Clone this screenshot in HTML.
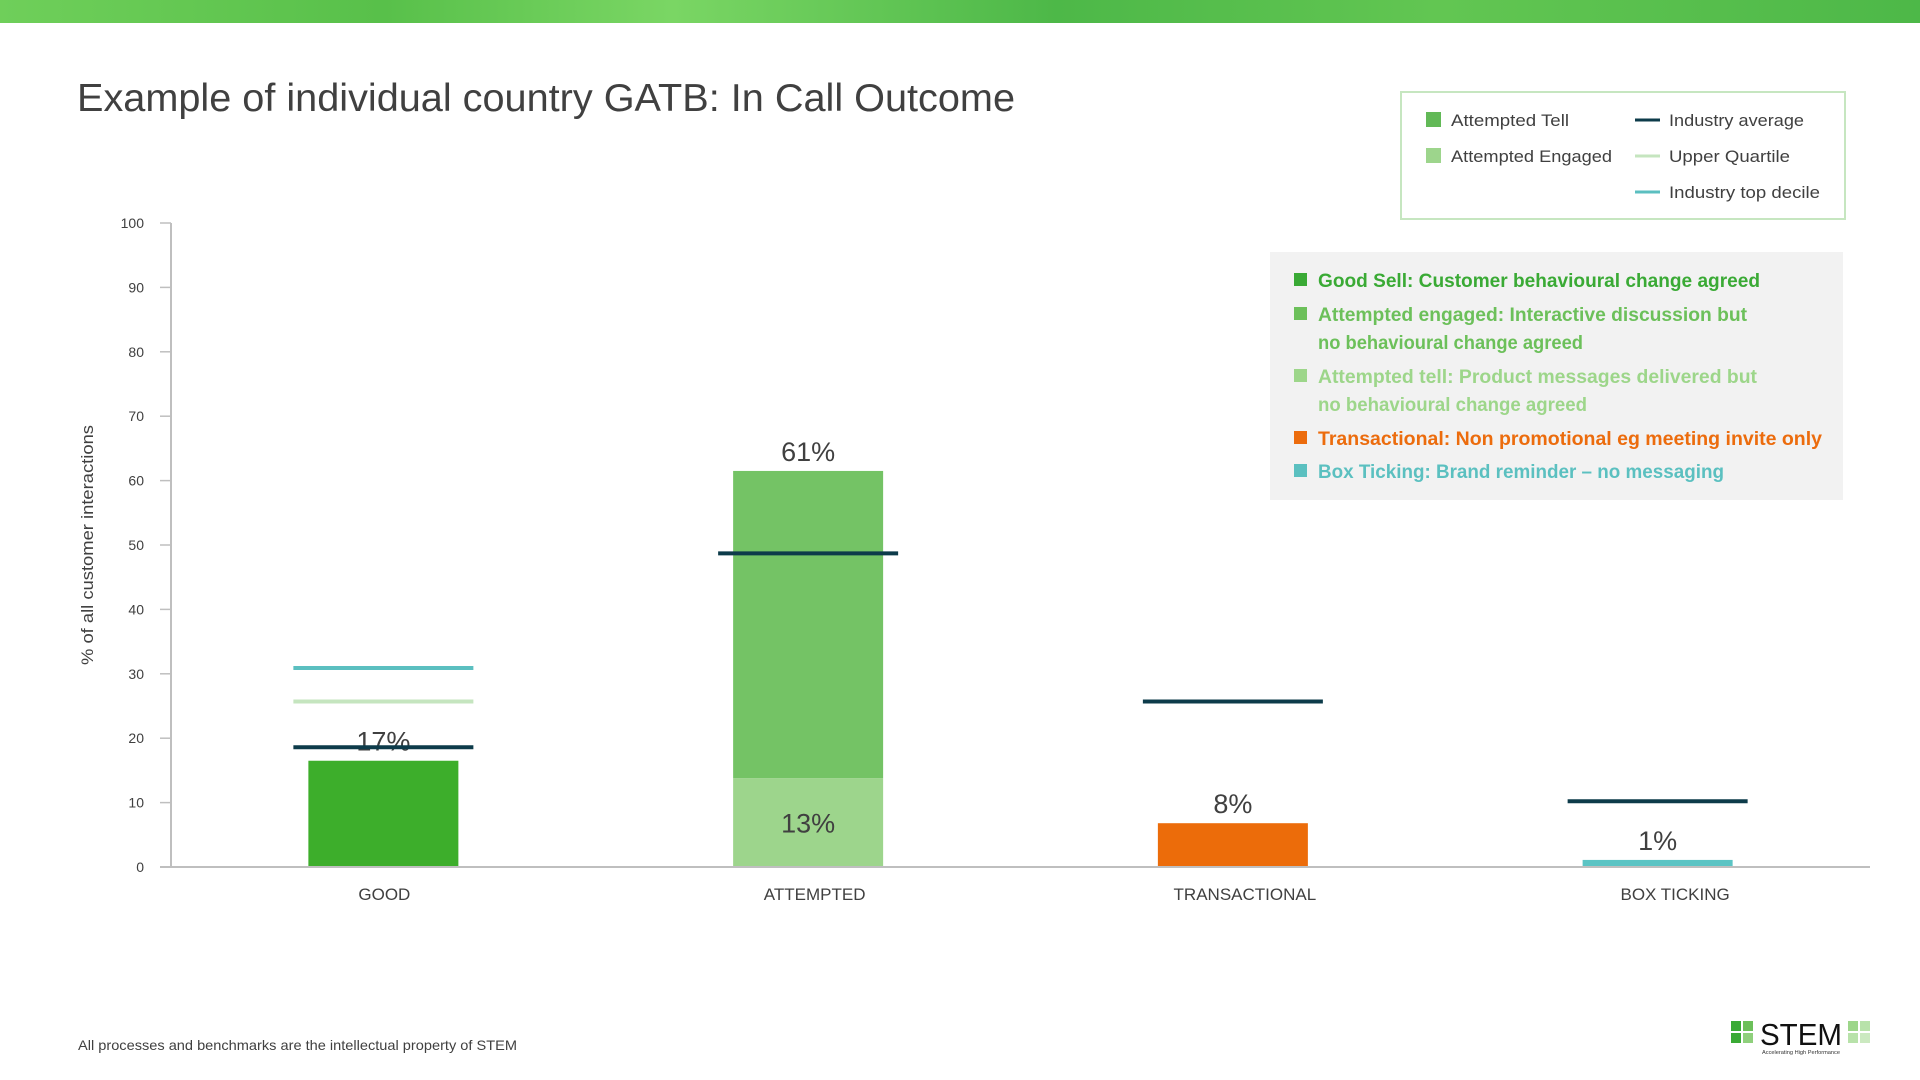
<!DOCTYPE html>
<html><head><meta charset="utf-8"><style>
html,body{margin:0;padding:0;background:#fff;}
svg{display:block;font-family:"Liberation Sans",sans-serif;}
</style></head><body>
<svg id="chart" width="1920" height="1080" viewBox="0 0 1920 1080" xmlns="http://www.w3.org/2000/svg">
<defs>
<linearGradient id="ban" x1="0" x2="1" y1="0" y2="0">
<stop offset="0" stop-color="#6fcf5a"/><stop offset="0.2" stop-color="#58c04a"/><stop offset="0.35" stop-color="#7ad664"/><stop offset="0.55" stop-color="#4db848"/><stop offset="0.75" stop-color="#62c652"/><stop offset="1" stop-color="#4db848"/>
</linearGradient>
</defs>
<rect x="0" y="0" width="1920" height="23" fill="url(#ban)"/>
<text x="77" y="111" font-size="39" fill="#404040" textLength="938" lengthAdjust="spacingAndGlyphs">Example of individual country GATB: In Call Outcome</text>

<g>
<rect x="1401" y="92" width="444" height="127" fill="#fff" stroke="#c6e6c0" stroke-width="2"/>
<rect x="1426" y="112" width="15" height="15" fill="#62b957"/>
<text x="1451" y="126" font-size="17" fill="#404040" textLength="118" lengthAdjust="spacingAndGlyphs">Attempted Tell</text>
<rect x="1426" y="148" width="15" height="15" fill="#9dd58c"/>
<text x="1451" y="162" font-size="17" fill="#404040" textLength="161" lengthAdjust="spacingAndGlyphs">Attempted Engaged</text>
<line x1="1635" x2="1660" y1="120" y2="120" stroke="#0d3b4a" stroke-width="3"/>
<text x="1669" y="126" font-size="17" fill="#404040" textLength="135" lengthAdjust="spacingAndGlyphs">Industry average</text>
<line x1="1635" x2="1660" y1="156" y2="156" stroke="#c5e5bf" stroke-width="3"/>
<text x="1669" y="162" font-size="17" fill="#404040" textLength="121" lengthAdjust="spacingAndGlyphs">Upper Quartile</text>
<line x1="1635" x2="1660" y1="192" y2="192" stroke="#5bbfc0" stroke-width="3"/>
<text x="1669" y="198" font-size="17" fill="#404040" textLength="151" lengthAdjust="spacingAndGlyphs">Industry top decile</text>
</g>

<g font-weight="bold" font-size="19">
<rect x="1270" y="252" width="573" height="248" fill="#f2f2f2"/>
<rect x="1294" y="273" width="13" height="13" fill="#3aaa35"/>
<text x="1318" y="287" fill="#3aaa35" textLength="442" lengthAdjust="spacingAndGlyphs">Good Sell: Customer behavioural change agreed</text>
<rect x="1294" y="307" width="13" height="13" fill="#6cc05a"/>
<text x="1318" y="321" fill="#6cc05a" textLength="429" lengthAdjust="spacingAndGlyphs">Attempted engaged: Interactive discussion but</text>
<text x="1318" y="349" fill="#6cc05a" textLength="265" lengthAdjust="spacingAndGlyphs">no behavioural change agreed</text>
<rect x="1294" y="369" width="13" height="13" fill="#9dd68a"/>
<text x="1318" y="383" fill="#9dd68a" textLength="439" lengthAdjust="spacingAndGlyphs">Attempted tell: Product messages delivered but</text>
<text x="1318" y="411" fill="#9dd68a" textLength="269" lengthAdjust="spacingAndGlyphs">no behavioural change  agreed</text>
<rect x="1294" y="431" width="13" height="13" fill="#ec6c0d"/>
<text x="1318" y="445" fill="#ec6c0d" textLength="504" lengthAdjust="spacingAndGlyphs">Transactional: Non promotional eg meeting invite only</text>
<rect x="1294" y="464" width="13" height="13" fill="#5bc0c0"/>
<text x="1318" y="478" fill="#5bc0c0" textLength="406" lengthAdjust="spacingAndGlyphs">Box Ticking: Brand reminder – no messaging</text>
</g>

<g id="plot"></g>

<text transform="translate(93,545) rotate(-90)" text-anchor="middle" font-size="17" fill="#404040" textLength="240" lengthAdjust="spacingAndGlyphs">% of all customer interactions</text>

<text x="78" y="1050" font-size="14" fill="#404040" textLength="439" lengthAdjust="spacingAndGlyphs">All processes and benchmarks are the intellectual property of STEM</text>

<g>
<rect x="1731" y="1021" width="10" height="10" fill="#3aaa35"/><rect x="1743" y="1021" width="10" height="10" fill="#6cc05a"/>
<rect x="1731" y="1033" width="10" height="10" fill="#3aaa35"/><rect x="1743" y="1033" width="10" height="10" fill="#8fd07c"/>
<text x="1760" y="1045" font-size="31" fill="#111" textLength="82" lengthAdjust="spacingAndGlyphs">STEM</text>
<text x="1762" y="1054" font-size="5" fill="#333" textLength="78" lengthAdjust="spacingAndGlyphs">Accelerating High Performance</text>
<rect x="1848" y="1021" width="10" height="10" fill="#9dd68a"/><rect x="1860" y="1021" width="10" height="10" fill="#b8e2aa"/>
<rect x="1848" y="1033" width="10" height="10" fill="#b8e2aa"/><rect x="1860" y="1033" width="10" height="10" fill="#cbe9c0"/>
</g>
</svg>
<script>
const categories = ["GOOD", "ATTEMPTED", "TRANSACTIONAL", "BOX TICKING"];
const mainValues = [16.5, 13.8, 6.8, 1.1];
const upperValues = [0, 47.7, 0, 0];
const mainLabels = ["17%", "13%", "8%", "1%"];
const totalLabels = ["", "61%", "", ""];
const industryAverage = [18.6, 48.7, 25.7, 10.2];
const upperQuartile = [25.7, null, null, null];
const topDecile = [30.9, null, null, null];
const yTicks = [0, 10, 20, 30, 40, 50, 60, 70, 80, 90, 100];

const NS = "http://www.w3.org/2000/svg";
const X0 = 171, X1 = 1870, Y0 = 867, Y100 = 223;
const band = (X1 - X0) / categories.length;
const xc = i => X0 + band * (i + 0.5);
const y = v => Y0 - (Y0 - Y100) * v / 100;
const g = document.getElementById("plot");
function mk(tag, attrs, text) {
  const e = document.createElementNS(NS, tag);
  for (const k in attrs) e.setAttribute(k, attrs[k]);
  if (text !== undefined) e.textContent = text;
  g.appendChild(e);
  return e;
}
const mainColors = ["#3dae2b", "#9dd58c", "#ec6c0a", "#5bc4c4"];
const BW = 150, LW = 180;

yTicks.forEach(t => {
  const tk = mk("line", {x1: 160, x2: X0, y1: y(t), y2: y(t), stroke: "#bfbfbf", "stroke-width": 1.5});
  
  
  const lb = mk("text", {x: 144, y: y(t) + 5, "text-anchor": "end", "font-size": 14, fill: "#404040"}, String(t));
  
  
});
const ya = mk("line", {x1: X0, x2: X0, y1: Y100, y2: Y0, stroke: "#bfbfbf", "stroke-width": 2});



categories.forEach((c, i) => {
  const cx = xc(i);
  const b = mk("rect", {x: cx - BW / 2, y: y(mainValues[i]), width: BW, height: y(0) - y(mainValues[i]), fill: mainColors[i]});
  
  
  if (upperValues[i] > 0) {
    const top = mainValues[i] + upperValues[i];
    const u = mk("rect", {x: cx - BW / 2, y: y(top), width: BW, height: y(mainValues[i]) - y(top), fill: "#74c365"});
    
    
    const tl = mk("text", {x: cx, y: y(top) - 10, "text-anchor": "middle", "font-size": 27, fill: "#404040"}, totalLabels[i]);
    
    
    const ml = mk("text", {x: cx, y: y(mainValues[i] / 2) + 10, "text-anchor": "middle", "font-size": 27, fill: "#404040"}, mainLabels[i]);
    
    
  } else {
    const ml = mk("text", {x: cx, y: y(mainValues[i]) - 10, "text-anchor": "middle", "font-size": 27, fill: "#404040"}, mainLabels[i]);
    
    
  }
  const drawLine = (v, col, name) => {
    if (v === null) return;
    const l = mk("line", {x1: cx - LW / 2, x2: cx + LW / 2, y1: y(v), y2: y(v), stroke: col, "stroke-width": 4});
    
    
  };
  drawLine(topDecile[i], "#5bbfc0", 'top-decile-line');
  drawLine(upperQuartile[i], "#c5e5bf", 'upper-quartile-line');
  drawLine(industryAverage[i], "#0d3b4a", 'industry-average-line');
  const xl = mk("text", {x: cx + 1 + i * 5.5, y: 900, "text-anchor": "middle", "font-size": 17, fill: "#404040"}, c);
  
  
});
const xa = mk("line", {x1: 160, x2: X1, y1: Y0, y2: Y0, stroke: "#bfbfbf", "stroke-width": 2});


</script>
</body></html>
